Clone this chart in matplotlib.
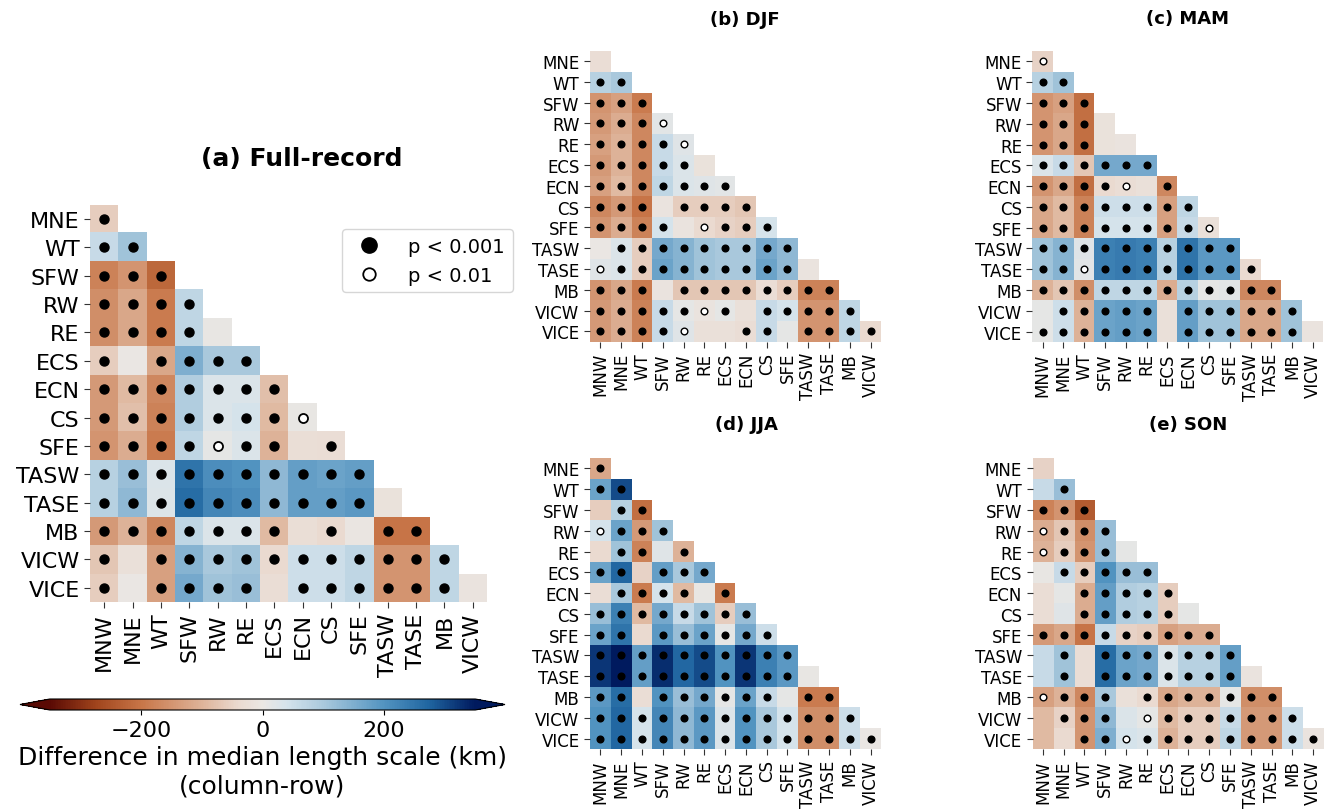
import numpy as np
import matplotlib.pyplot as plt
from matplotlib.colors import LinearSegmentedColormap
from matplotlib.lines import Line2D

ROWS = ["MNE", "WT", "SFW", "RW", "RE", "ECS", "ECN", "CS", "SFE",
        "TASW", "TASE", "MB", "VICW", "VICE"]
COLS = ["MNW", "MNE", "WT", "SFW", "RW", "RE", "ECS", "ECN", "CS", "SFE",
        "TASW", "TASE", "MB", "VICW"]

# lower triangle, one list per row (column - row, km)
FULL = [
    [-60],
    [60, 110],
    [-180, -150, -220],
    [-160, -120, -190, 70],
    [-160, -120, -190, 70, 5],
    [-60, 0, -120, 150, 100, 100],
    [-140, -90, -170, 90, 30, 30, -80],
    [-140, -80, -180, 90, 30, 40, -90, 5],
    [-150, -110, -190, 70, 10, 30, -100, -25, -30],
    [80, 120, 30, 250, 210, 200, 130, 180, 170, 180],
    [80, 130, 25, 260, 220, 210, 130, 180, 180, 190, -15],
    [-140, -100, -170, 70, 30, 30, -90, -25, -40, -5, -200, -200],
    [-70, -20, -130, 140, 100, 110, -40, 50, 50, 70, -150, -150, 70],
    [-60, 0, -130, 160, 110, 120, -30, 50, 50, 70, -150, -150, 70, -10],
]
FULL_SIG = ["f", "ff", "fff", "ffff", "ffff.", "f.ffff", "fffffff",
            "fffffffo", "ffffoff.f", "ffffffffff", "ffffffffff.",
            "fffffff.f.ff", "f.fffffffffff", "f.ffff.ffffff."]

DJF = [
    [-30],
    [80, 100],
    [-150, -130, -190],
    [-140, -110, -170, 15],
    [-130, -100, -170, 60, 20],
    [-140, -100, -170, 60, 30, -15],
    [-130, -90, -170, 70, 30, 20, 15],
    [-170, -140, -200, -10, -60, -60, -60, -70],
    [-150, -110, -180, 40, -10, -40, -50, -60, 40],
    [0, 30, -60, 160, 140, 110, 100, 100, 160, 130],
    [20, 30, -60, 170, 140, 110, 100, 100, 170, 130, -10],
    [-150, -120, -190, -10, -70, -70, -70, -70, -30, -60, -180, -180],
    [-140, -110, -180, 60, 10, -10, 10, -20, 60, 40, -150, -150, 70],
    [-140, -110, -180, 60, 20, -20, -20, -30, 60, 10, -150, -150, 70, -40],
]
DJF_SIG = [".", "ff", "fff", "fffo", "ffffo", "fffff.", "fffffff",
           "fff.ffff", "ffff.offf", ".fffffffff", "offfffffff.",
           "fff.ffffffff", "fffffof.fffff", "ffffo..ff.ffff"]

MAM = [
    [-50],
    [80, 110],
    [-150, -130, -210],
    [-150, -120, -210, -15],
    [-150, -120, -210, -15, -10],
    [30, 60, -70, 160, 160, 160],
    [-150, -120, -210, -40, -30, -20, -170],
    [-120, -90, -180, 50, 50, 50, -130, 70],
    [-120, -90, -180, 40, 40, 40, -130, 60, -20],
    [110, 140, 20, 230, 240, 230, 80, 250, 190, 190],
    [110, 140, 15, 230, 240, 230, 80, 250, 190, 190, -40],
    [-100, -70, -160, 70, 70, 70, -110, 80, 10, 15, -170, -170],
    [10, 50, -100, 170, 180, 170, -20, 180, 110, 110, -120, -120, 110],
    [10, 50, -100, 170, 180, 170, -20, 180, 110, 110, -120, -120, 110, -10],
]
MAM_SIG = ["o", "ff", "fff", "fff.", "fff..", "ffffff", "ffffo.f",
           "ffffffff", "ffffffffo", "ffffffffff", "ffoffffffff",
           "ffffffffffff", ".fffff.ffffff", "ffffff.ffffff."]

JJA = [
    [-120],
    [170, 300],
    [-60, 80, -210],
    [40, 170, -140, 110],
    [-40, 110, -180, 20, -100],
    [170, 270, -50, 180, 100, 160],
    [-30, 100, -190, 40, -90, 5, -190],
    [120, 230, -90, 160, 60, 110, -60, 120],
    [170, 250, -40, 190, 120, 170, 10, 160, 50],
    [320, 360, 180, 330, 270, 300, 200, 320, 230, 190],
    [320, 370, 180, 330, 270, 300, 200, 320, 230, 190, 5],
    [190, 260, -30, 200, 120, 160, 10, 170, 60, 10, -190, -190],
    [200, 270, 40, 220, 130, 190, 30, 200, 100, 40, -160, -160, 50],
    [200, 270, 40, 220, 130, 190, 30, 200, 100, 40, -160, -160, 50, 0],
]
JJA_SIG = ["f", "ff", ".ff", "offf", ".ff.f", "ff.fff", ".ffff.f",
           "ffffffff", "ff.ffffff", "ffffffffff", "ffffffffff.",
           "ff.ffffff.ff", "fffffffffffff", "ffffffffffffff"]

SON = [
    [-50],
    [60, 120],
    [-180, -150, -240],
    [-110, -70, -160, 120],
    [-100, -60, -150, 120, 10],
    [5, 60, -60, 200, 120, 120],
    [-30, 10, -110, 180, 90, 80, -60],
    [-30, 20, -110, 180, 90, 80, -60, 10],
    [-140, -120, -200, 60, -50, -60, -130, -110, -110],
    [60, 110, -30, 260, 170, 160, 30, 80, 80, 180],
    [60, 110, -30, 260, 170, 160, 30, 80, 80, 180, -10],
    [-130, -100, -170, 100, -20, -40, -120, -100, -100, 10, -160, -160],
    [-90, -50, -150, 130, 30, 10, -90, -60, -60, 60, -140, -140, 50],
    [-90, -40, -150, 150, 40, 30, -100, -60, -60, 70, -140, -140, 50, -10],
]
SON_SIG = [".", ".f", "fff", "offf", "offf.", ".fffff", "..fffff",
           "..fffff.", "fffffffff", ".f.fffffff", ".f.fffffff.",
           "offf.fffffff", ".fff.offfffff", "..ffofffffffff"]

VMIN, VMAX = -350, 350
# vik-like diverging map, brown (negative) to blue (positive)
CMAP = LinearSegmentedColormap.from_list("vik_r", [
    (0.000, "#5a0a04"),
    (0.107, "#a0441c"),
    (0.214, "#c87648"),
    (0.357, "#deb399"),
    (0.443, "#eadad0"),
    (0.500, "#ebe7e3"),
    (0.557, "#d5e3ec"),
    (0.643, "#aac9dd"),
    (0.786, "#5394c1"),
    (0.893, "#1f65a0"),
    (1.000, "#001a5e"),
])

W, H = 1332, 812


def fig_rect(x0, y0, x1, y1):
    return [x0 / W, 1 - y1 / H, (x1 - x0) / W, (y1 - y0) / H]


def draw_panel(ax, tri, sig, fs, ms, mew):
    n = len(ROWS)
    grid = np.full((n, len(COLS)), np.nan)
    for i, row in enumerate(tri):
        grid[i, :len(row)] = row
    im = ax.imshow(np.ma.masked_invalid(grid), cmap=CMAP, vmin=VMIN, vmax=VMAX,
                   aspect="auto", interpolation="nearest")
    for i, marks in enumerate(sig):
        for j, m in enumerate(marks):
            if m == "f":
                ax.plot(j, i, "o", color="black", ms=ms)
            elif m == "o":
                ax.plot(j, i, "o", mfc="white", mec="black", mew=mew, ms=ms)
    ax.set_xticks(range(len(COLS)))
    ax.set_xticklabels(COLS, rotation=90, fontsize=fs)
    ax.set_yticks(range(n))
    ax.set_yticklabels(ROWS, fontsize=fs)
    ax.tick_params(length=4, width=0.8, color="#333333")
    for s in ax.spines.values():
        s.set_visible(False)
    return im


fig = plt.figure(figsize=(W / 100, H / 100), dpi=100)

ax_a = fig.add_axes(fig_rect(90, 205.7, 487, 603))
im = draw_panel(ax_a, FULL, FULL_SIG, 16, 6.5, 1.3)
fig.text(302 / W, 1 - 159 / H, "(a) Full-record", ha="center", va="center",
         fontsize=18, fontweight="bold")

panels = [
    (DJF, DJF_SIG, (590, 51.7), "(b) DJF", (745, 20)),
    (MAM, MAM_SIG, (1032.3, 52), "(c) MAM", (1188, 19)),
    (JJA, JJA_SIG, (590, 459), "(d) JJA", (746, 425)),
    (SON, SON_SIG, (1032.5, 459), "(e) SON", (1188, 425)),
]
for tri, sig, (x0, y0), title, (tx, ty) in panels:
    ax = fig.add_axes(fig_rect(x0, y0, x0 + 291, y0 + 291))
    draw_panel(ax, tri, sig, 12, 4.8, 1.0)
    fig.text(tx / W, 1 - ty / H, title, ha="center", va="center",
             fontsize=13, fontweight="bold")

cax = fig.add_axes(fig_rect(20, 700, 505, 711))
cb = fig.colorbar(im, cax=cax, orientation="horizontal", extend="both",
                  extendfrac=0.07, ticks=[-200, 0, 200])
cb.ax.tick_params(labelsize=16)
cb.set_label("Difference in median length scale (km)\n(column-row)", fontsize=18)

handles = [
    Line2D([], [], ls="", marker="o", color="black", ms=11),
    Line2D([], [], ls="", marker="o", mfc="white", mec="black", mew=1.3, ms=9),
]
fig.legend(handles, ["p < 0.001", "p < 0.01"], loc="upper left",
           bbox_to_anchor=(342 / W, 1 - 230 / H), fontsize=14,
           borderaxespad=0, handletextpad=1.0)

fig.savefig("out.png", dpi=100)
